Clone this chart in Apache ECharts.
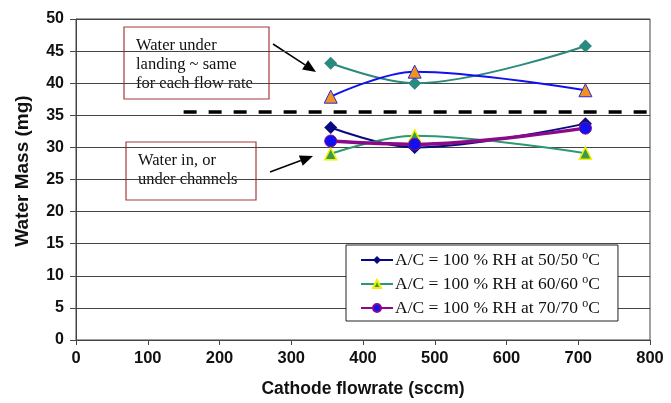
<!DOCTYPE html>
<html>
<head>
<meta charset="utf-8">
<script src="https://cdn.jsdelivr.net/npm/echarts@6/dist/echarts.min.js"></script>
<style>
  html, body { margin: 0; padding: 0; background: #fff; }
  #chart { width: 671px; height: 403px; }
</style>
</head>
<body>
<div id="chart"></div>
<script>
// flowrates (sccm) and water mass (mg)
const flowrate = [355, 472, 710];
const rh50 = [33.1, 30.0, 33.7];
const rh60 = [29.0, 31.8, 29.1];
const rh70 = [31.0, 30.5, 33.0];
const landingA = [43.1, 40.0, 45.8];
const landingB = [37.9, 41.8, 38.9];
const dividerX = [150, 800];
const dividerY = 35.5;
const legendNames = ['A/C = 100 % RH at 50/50', 'A/C = 100 % RH at 60/60', 'A/C = 100 % RH at 70/70'];

function pairs(ys) {
  return flowrate.map(function (x, i) { return [x, ys[i]]; });
}

const chart = echarts.init(document.getElementById('chart'));

const sans = 'Liberation Sans';
const serif = 'Liberation Serif';

// arrow helper for the annotation boxes
function arrow(x1, y1, x2, y2) {
  const a = Math.atan2(y2 - y1, x2 - x1);
  const len = 13, w = 5.5;
  const bx = x2 - len * Math.cos(a), by = y2 - len * Math.sin(a);
  const px = -Math.sin(a) * w, py = Math.cos(a) * w;
  return [
    { type: 'line', shape: { x1: x1, y1: y1, x2: bx, y2: by }, style: { stroke: '#000', lineWidth: 1.5 } },
    { type: 'polygon', shape: { points: [[x2, y2], [bx + px, by + py], [bx - px, by - py]] }, style: { fill: '#000' } }
  ];
}

function box(x, y, w, h, text) {
  return {
    type: 'group', x: x, y: y,
    children: [
      { type: 'rect', shape: { x: 0, y: 0, width: w, height: h }, style: { fill: '#fff', stroke: '#a83a3a', lineWidth: 1.2 } },
      { type: 'text', x: 12, y: 9, style: { text: text, font: '16.5px "Liberation Serif"', fill: '#111', lineHeight: 19 } }
    ]
  };
}

const option = {
  animation: false,
  grid: { left: 76, right: 21, top: 19, bottom: 59, show: true, borderColor: '#444', borderWidth: 1 },
  xAxis: {
    type: 'value', min: 0, max: 800, interval: 100,
    name: 'Cathode flowrate (sccm)', nameLocation: 'middle', nameGap: 40,
    nameTextStyle: { fontFamily: sans, fontWeight: 'bold', fontSize: 17.5, color: '#111' },
    axisLine: { show: true, lineStyle: { color: '#444' } },
    axisTick: { show: true, length: 5, lineStyle: { color: '#444' } },
    splitLine: { show: false },
    axisLabel: { fontFamily: sans, fontWeight: 'bold', fontSize: 16.5, color: '#111', margin: 10 }
  },
  yAxis: {
    type: 'value', min: 0, max: 50, interval: 5,
    axisLine: { show: true, lineStyle: { color: '#444' } },
    axisTick: { show: true, length: 6, lineStyle: { color: '#444' } },
    splitLine: { show: true, lineStyle: { color: '#444', width: 1 } },
    axisLabel: { fontFamily: sans, fontWeight: 'bold', fontSize: 16, color: '#111', margin: 12 }
  },
  legend: {
    data: legendNames,
    orient: 'vertical', left: 346, top: 245,
    padding: [5, 18, 4, 14], itemGap: 5, itemWidth: 32, itemHeight: 10,
    backgroundColor: '#fff', borderColor: '#222', borderWidth: 1,
    formatter: function (name) { return name + ' {sup|o}C'; },
    textStyle: {
      fontFamily: serif, fontSize: 17.5, color: '#111', padding: [0, 0, 0, -3],
      rich: { sup: { fontFamily: serif, fontSize: 12, verticalAlign: 'top', padding: [0, 0, 8, 0], color: '#111' } }
    }
  },
  series: [
    {
      name: 'divider', type: 'line', silent: true, symbol: 'none', z: 1,
      data: dividerX.map(function (x) { return [x, dividerY]; }),
      lineStyle: { color: '#000', width: 3.5, type: [13, 12] }
    },
    {
      name: 'landing A', type: 'line', smooth: 0.35, data: pairs(landingA),
      symbol: 'diamond', symbolSize: 13,
      lineStyle: { color: '#2a8a7e', width: 2 },
      itemStyle: { color: '#2a8a7e' }
    },
    {
      name: 'landing B', type: 'line', smooth: 0.35, data: pairs(landingB),
      symbol: 'triangle', symbolSize: 13,
      lineStyle: { color: '#1010f0', width: 2 },
      itemStyle: { color: '#f39224', borderColor: '#2a2ad0', borderWidth: 1 }
    },
    {
      name: legendNames[0], type: 'line', smooth: 0.35, data: pairs(rh50),
      symbol: 'diamond', symbolSize: 13,
      lineStyle: { color: '#0a0a80', width: 2 },
      itemStyle: { color: '#0a0a80' }
    },
    {
      name: legendNames[1], type: 'line', smooth: 0.35, data: pairs(rh60),
      symbol: 'triangle', symbolSize: 12,
      lineStyle: { color: '#2e9870', width: 2 },
      itemStyle: { color: '#3a9a50', borderColor: '#f0f000', borderWidth: 1.5 }
    },
    {
      name: legendNames[2], type: 'line', smooth: 0.35, data: pairs(rh70),
      symbol: 'circle', symbolSize: 12,
      lineStyle: { color: '#8a0a8a', width: 3.5 },
      itemStyle: { color: '#1010f0', borderColor: '#8a0a8a', borderWidth: 1 }
    }
  ],
  graphic: [
    {
      type: 'text', x: 23, y: 171, rotation: Math.PI / 2,
      style: { text: 'Water Mass (mg)', font: 'bold 19px "Liberation Sans"', fill: '#111', align: 'center', verticalAlign: 'middle' }
    },
    box(124, 27, 145, 72, 'Water under\nlanding ~ same\nfor each flow rate'),
    box(126, 142, 130, 58, 'Water in, or\nunder channels')
  ].concat(arrow(273, 44, 316, 72), arrow(270, 172, 313, 156))
};

chart.setOption(option);
</script>
</body>
</html>
